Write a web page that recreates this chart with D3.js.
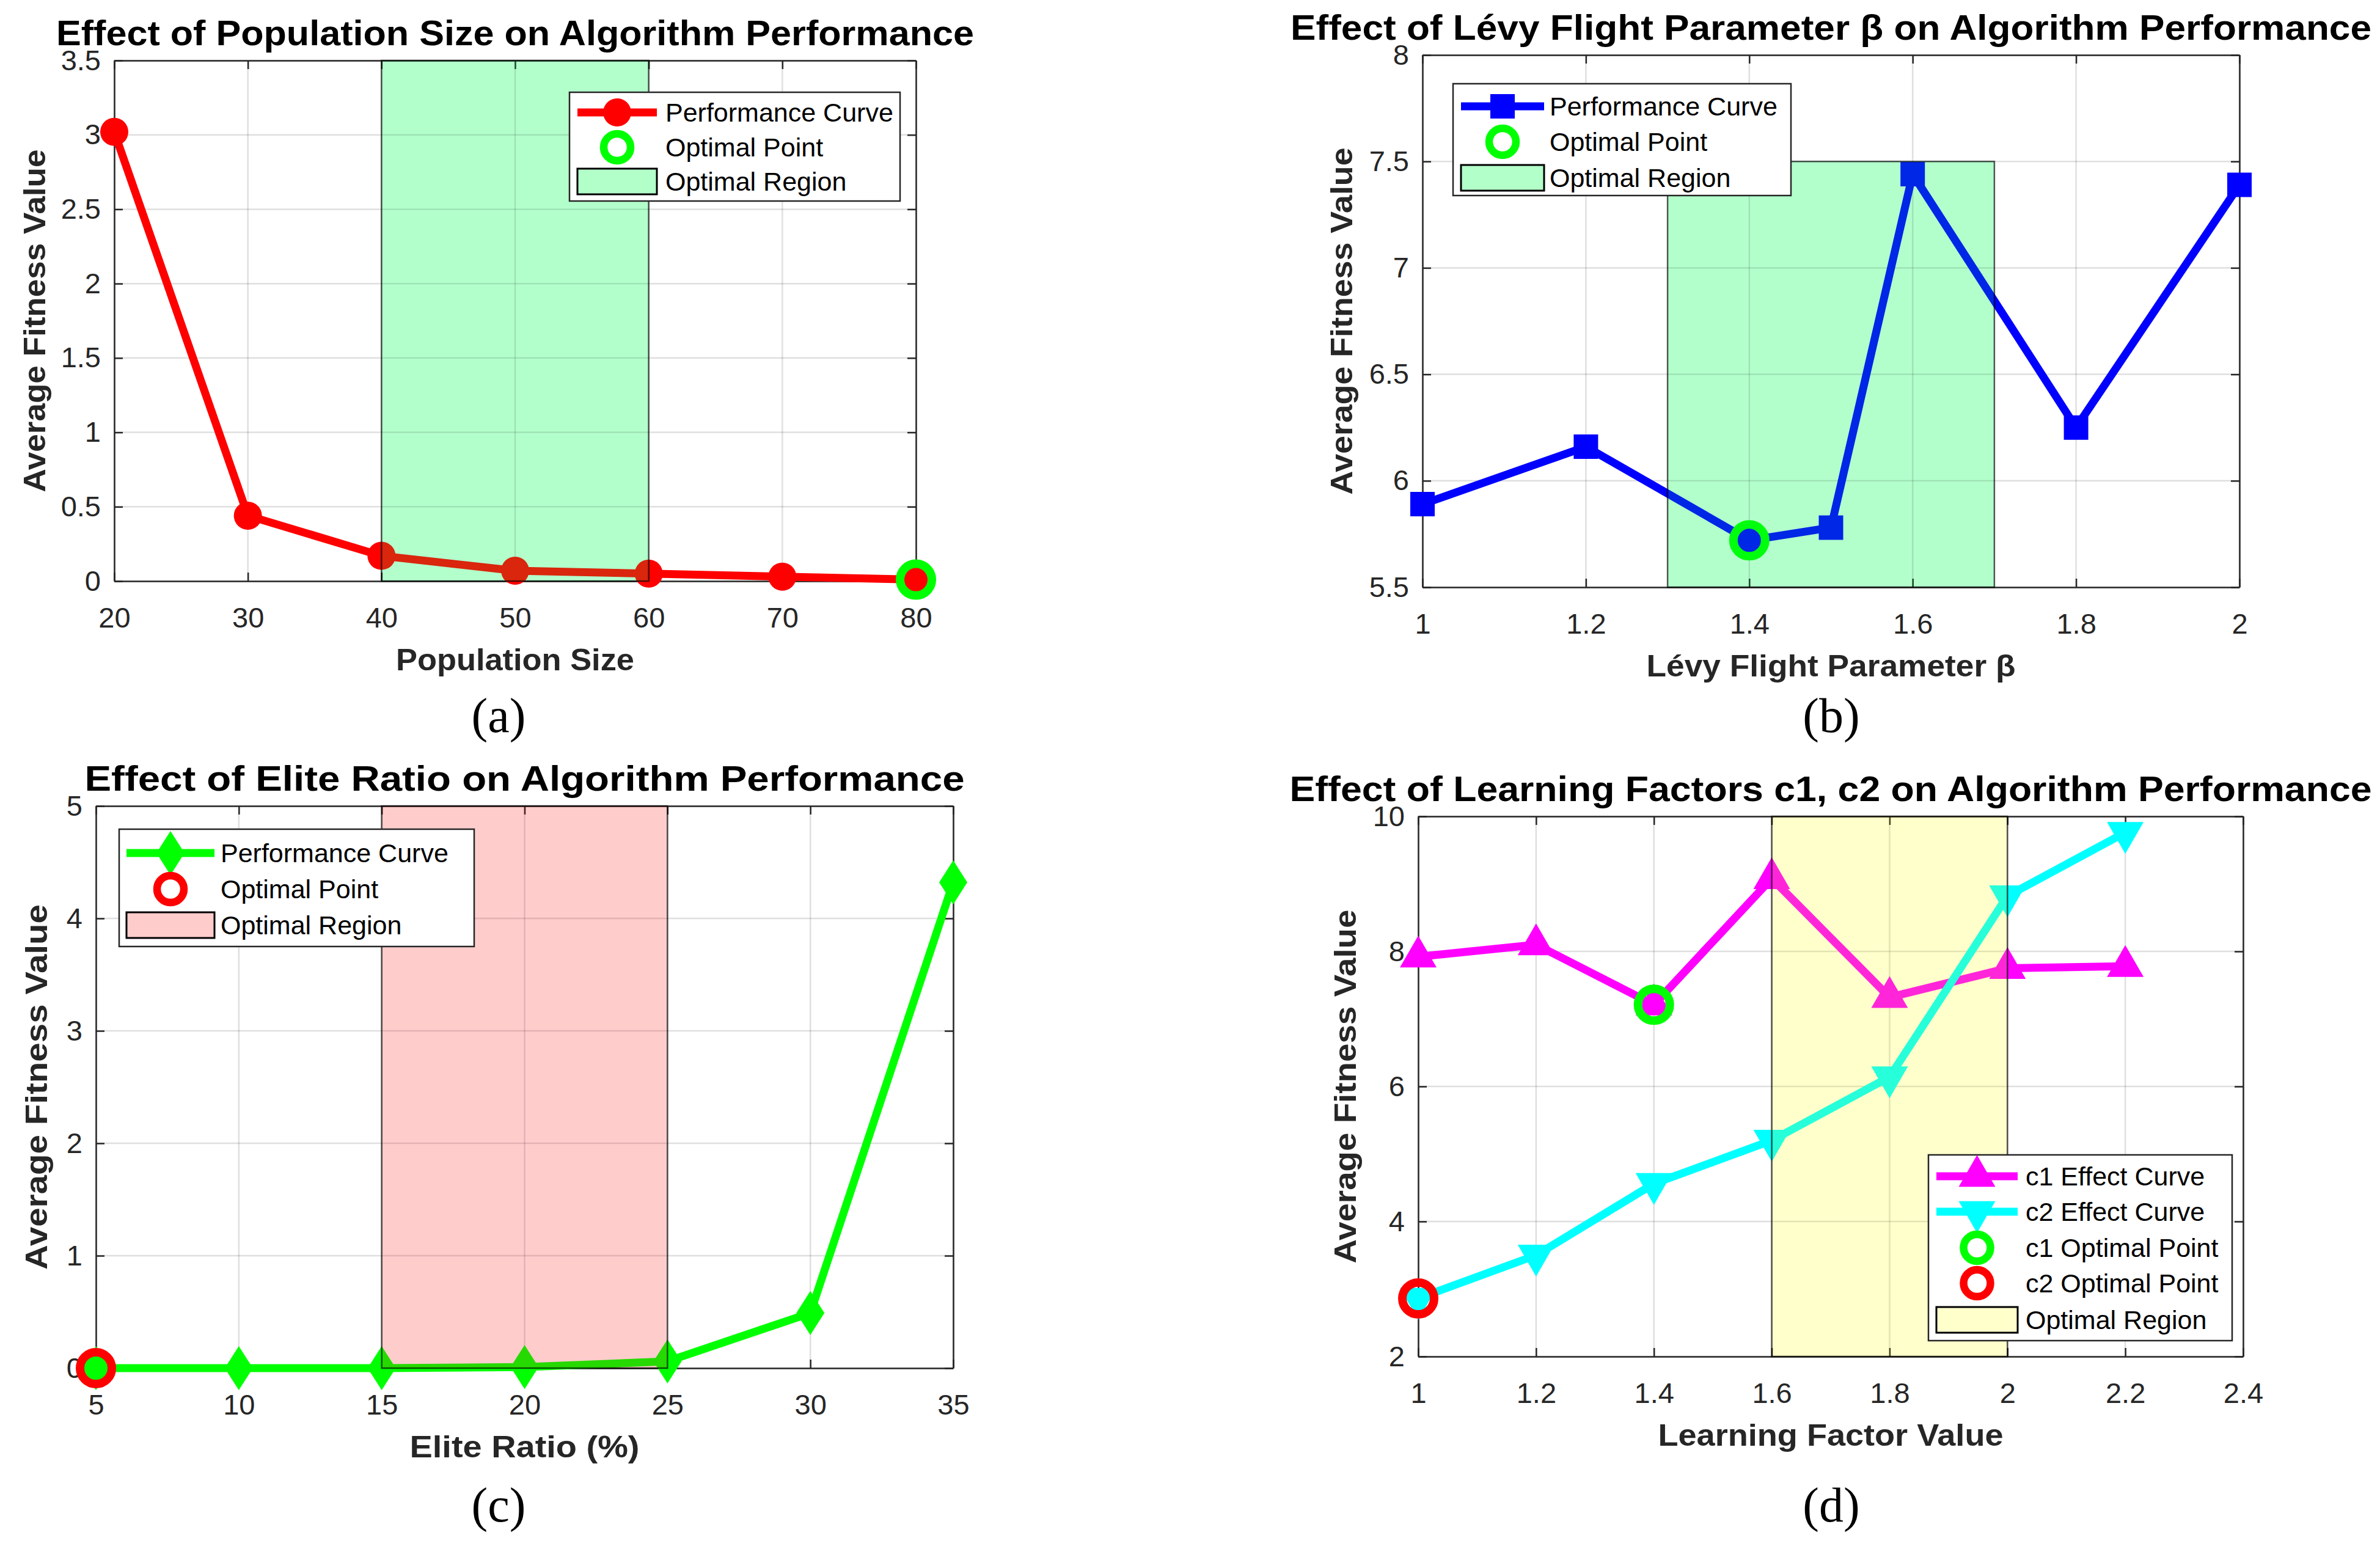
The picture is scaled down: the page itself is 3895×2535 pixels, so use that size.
<!DOCTYPE html>
<html>
<head>
<meta charset="utf-8">
<script src="https://cdn.jsdelivr.net/npm/d3@7"></script>
<style>
  body { margin: 0; background: #fff; }
  text { font-family: "Liberation Sans", Arial, sans-serif; }
</style>
</head>
<body>
<svg id="fig"></svg>
<script>
// ---- data ----
// (a) population size
const popSize = [20, 30, 40, 50, 60, 70, 80]
const popFitness = [3.02, 0.44, 0.17, 0.07, 0.05, 0.03, 0.01]
const popTicksX = [20, 30, 40, 50, 60, 70, 80]
const popTicksY = [0, 0.5, 1, 1.5, 2, 2.5, 3, 3.5]
const popRegion = [40, 60]
const popBest = [80, 0.01]

// (b) Lévy flight parameter beta
const betaValues = [1.0, 1.2, 1.4, 1.5, 1.6, 1.8, 2.0]
const betaFitness = [5.89, 6.16, 5.72, 5.78, 7.44, 6.25, 7.39]
const betaTicksX = [1, 1.2, 1.4, 1.6, 1.8, 2]
const betaTicksY = [5.5, 6, 6.5, 7, 7.5, 8]
const betaRegion = [1.3, 1.7]
const betaRegionTop = 7.5
const betaBest = [1.4, 5.72]

// (c) elite ratio
const eliteRatio = [5, 10, 15, 20, 25, 30, 35]
const eliteFitness = [0, 0, 0, 0.01, 0.06, 0.49, 4.32]
const eliteTicksX = [5, 10, 15, 20, 25, 30, 35]
const eliteTicksY = [0, 1, 2, 3, 4, 5]
const eliteRegion = [15, 25]
const eliteBest = [5, 0]

// (d) learning factors
const learnValues = [1.0, 1.2, 1.4, 1.6, 1.8, 2.0, 2.2]
const c1Fitness = [7.92, 8.1, 7.21, 9.08, 7.32, 7.75, 7.78]
const c2Fitness = [2.86, 3.5, 4.56, 5.2, 6.14, 8.82, 9.76]
const learnTicksX = [1, 1.2, 1.4, 1.6, 1.8, 2, 2.2, 2.4]
const learnTicksY = [2, 4, 6, 8, 10]
const learnRegion = [1.6, 2.0]
const c1Best = [1.4, 7.21]
const c2Best = [1.0, 2.86]

const W = 3895
const H = 2535
const AX = '#262626'

const svg = d3.select('#fig').attr('width', W).attr('height', H)
svg.append('rect').attr('width', W).attr('height', H).attr('fill', '#fff')

const zip = (xs, ys) => xs.map((v, i) => [v, ys[i]])

// marker outlines, centred on the data point
function markerPath(type) {
  if (type === 'circle') return 'M-23,0A23,23 0 1,0 23,0A23,23 0 1,0 -23,0Z'
  if (type === 'square') return 'M-20,-20H20V20H-20Z'
  if (type === 'diamond') return 'M0,-36L23,0L0,36L-23,0Z'
  const w = 60, h = 52
  if (type === 'triUp') return `M0,${-2 * h / 3}L${w / 2},${h / 3}L${-w / 2},${h / 3}Z`
  return `M0,${2 * h / 3}L${w / 2},${-h / 3}L${-w / 2},${-h / 3}Z`
}

function drawPanel(p) {
  const g = svg.append('g')
  const b = p.box
  const x = d3.scaleLinear().domain(p.xDomain).range([b.x0, b.x1])
  const y = d3.scaleLinear().domain(p.yDomain).range([b.y1, b.y0])

  // region geometry (underlay now, tinted overlay after the curves)
  const top = p.region.top !== undefined ? p.region.top : p.yDomain[1]
  const rx = x(p.region.x[0])
  const rw = x(p.region.x[1]) - rx
  const ry = y(top)
  const rh = y(p.yDomain[0]) - ry
  g.append('rect').attr('x', rx).attr('y', ry).attr('width', rw).attr('height', rh)
    .attr('fill', p.region.under)

  // grid
  g.append('g').selectAll('line').data(p.xTicks).join('line')
    .attr('x1', d => x(d)).attr('x2', d => x(d)).attr('y1', b.y0).attr('y2', b.y1)
    .attr('stroke', AX).attr('stroke-opacity', 0.15).attr('stroke-width', 2.5)
  g.append('g').selectAll('line').data(p.yTicks).join('line')
    .attr('y1', d => y(d)).attr('y2', d => y(d)).attr('x1', b.x0).attr('x2', b.x1)
    .attr('stroke', AX).attr('stroke-opacity', 0.15).attr('stroke-width', 2.5)

  // axes box with inward ticks on all four sides
  const fmt = d => String(d)
  const axes = [
    { a: d3.axisBottom(x).tickValues(p.xTicks).tickFormat(fmt).tickPadding(43), t: `translate(0,${b.y1})` },
    { a: d3.axisTop(x).tickValues(p.xTicks).tickFormat(''), t: `translate(0,${b.y0})` },
    { a: d3.axisLeft(y).tickValues(p.yTicks).tickFormat(fmt).tickPadding(22), t: `translate(${b.x0},0)` },
    { a: d3.axisRight(y).tickValues(p.yTicks).tickFormat(''), t: `translate(${b.x1},0)` },
  ]
  axes.forEach(({ a, t }) => {
    const ag = g.append('g').attr('transform', t)
      .call(a.tickSizeInner(-14).tickSizeOuter(0))
    ag.select('.domain').attr('stroke', AX).attr('stroke-width', 2.5)
    ag.selectAll('.tick line').attr('stroke', AX).attr('stroke-width', 2.5)
    ag.selectAll('.tick text').attr('font-size', 47).attr('fill', AX)
  })

  // curves
  p.series.forEach(s => {
    const pts = zip(s.x, s.y)
    g.append('path').datum(pts)
      .attr('d', d3.line().x(d => x(d[0])).y(d => y(d[1])))
      .attr('fill', 'none').attr('stroke', s.color).attr('stroke-width', 13)
      .attr('stroke-linejoin', 'round')
    g.append('g').selectAll('path').data(pts).join('path')
      .attr('d', markerPath(s.marker))
      .attr('transform', d => `translate(${x(d[0])},${y(d[1])})`)
      .attr('fill', s.color)
  })

  // optimal points
  p.optimal.forEach(o => {
    g.append('circle').attr('cx', x(o.pt[0])).attr('cy', y(o.pt[1])).attr('r', 26)
      .attr('fill', 'none').attr('stroke', o.color).attr('stroke-width', 14)
  })

  // translucent tint of the optimal region on top, with its edge
  g.append('rect').attr('x', rx).attr('y', ry).attr('width', rw).attr('height', rh)
    .attr('fill', p.region.tint).attr('fill-opacity', 0.15)
    .attr('stroke', '#000').attr('stroke-opacity', 0.65).attr('stroke-width', 2.5)

  // title and labels
  const cx = (b.x0 + b.x1) / 2
  const cy = (b.y0 + b.y1) / 2
  g.append('text').text(p.title)
    .attr('x', cx).attr('y', b.y0 - 25).attr('text-anchor', 'middle')
    .attr('font-size', 58).attr('font-weight', 'bold').attr('fill', '#000')
    .attr('textLength', p.titleLen).attr('lengthAdjust', 'spacingAndGlyphs')
  g.append('text').text(p.xlabel)
    .attr('x', cx).attr('y', b.y1 + 146).attr('text-anchor', 'middle')
    .attr('font-size', 50).attr('font-weight', 'bold').attr('fill', AX)
    .attr('textLength', p.xlabelLen).attr('lengthAdjust', 'spacingAndGlyphs')
  g.append('text').text('Average Fitness Value')
    .attr('transform', `translate(${p.ylabelX},${cy}) rotate(-90)`)
    .attr('text-anchor', 'middle')
    .attr('font-size', 50).attr('font-weight', 'bold').attr('fill', AX)
    .attr('textLength', p.ylabelLen).attr('lengthAdjust', 'spacingAndGlyphs')
  g.append('text').text(p.tag)
    .attr('x', p.tagX).attr('y', p.tagY).attr('text-anchor', 'middle')
    .style('font-family', '"Liberation Serif", "DejaVu Serif", serif')
    .attr('font-size', 80).attr('fill', '#000')

  // legend
  const L = p.legend
  const lg = g.append('g')
  lg.append('rect').attr('x', L.x0).attr('y', L.y0)
    .attr('width', L.x1 - L.x0).attr('height', L.y1 - L.y0)
    .attr('fill', '#fff').attr('stroke', AX).attr('stroke-width', 2.5)
  const mid = (L.sx0 + L.sx1) / 2
  L.rows.forEach((r, i) => {
    const yy = L.rowY[i]
    if (r.kind === 'line') {
      lg.append('line').attr('x1', L.sx0).attr('x2', L.sx1).attr('y1', yy).attr('y2', yy)
        .attr('stroke', r.color).attr('stroke-width', 13)
      lg.append('path').attr('d', markerPath(r.marker))
        .attr('transform', `translate(${mid},${yy})`).attr('fill', r.color)
    } else if (r.kind === 'ring') {
      lg.append('circle').attr('cx', mid).attr('cy', yy).attr('r', 22)
        .attr('fill', 'none').attr('stroke', r.color).attr('stroke-width', 12.5)
    } else {
      lg.append('rect').attr('x', L.sx0).attr('y', yy - 21)
        .attr('width', L.sx1 - L.sx0).attr('height', 42)
        .attr('fill', r.color).attr('stroke', '#000').attr('stroke-width', 3)
    }
    lg.append('text').text(r.label)
      .attr('x', L.tx).attr('y', yy).attr('dy', '0.36em')
      .attr('font-size', 43).attr('fill', '#000')
  })
}

// region colours: a pale underlay plus a light tint laid over the curves
const mintRegion = { under: '#d3ffe1', tint: 'rgb(0,255,85)' }
const pinkRegion = { under: '#fff0f0', tint: '#ff0000' }
const yellowRegion = { under: '#fffff0', tint: '#ffff00' }

drawPanel({
  box: { x0: 187, x1: 1499, y0: 99, y1: 951 },
  xDomain: [20, 80], yDomain: [0, 3.5],
  xTicks: popTicksX, yTicks: popTicksY,
  series: [{ x: popSize, y: popFitness, color: '#ff0000', marker: 'circle' }],
  optimal: [{ pt: popBest, color: '#00ff00' }],
  region: { x: popRegion, ...mintRegion },
  title: 'Effect of Population Size on Algorithm Performance', titleLen: 1502,
  xlabel: 'Population Size', xlabelLen: 390,
  ylabelX: 74, ylabelLen: 561,
  tag: '(a)', tagX: 816, tagY: 1198,
  legend: {
    x0: 932, x1: 1473, y0: 151, y1: 329, sx0: 945, sx1: 1075, tx: 1089,
    rowY: [184, 241, 297],
    rows: [
      { kind: 'line', color: '#ff0000', marker: 'circle', label: 'Performance Curve' },
      { kind: 'ring', color: '#00ff00', label: 'Optimal Point' },
      { kind: 'patch', color: '#b3ffca', label: 'Optimal Region' },
    ],
  },
})

drawPanel({
  box: { x0: 2328, x1: 3665, y0: 90, y1: 961 },
  xDomain: [1, 2], yDomain: [5.5, 8],
  xTicks: betaTicksX, yTicks: betaTicksY,
  series: [{ x: betaValues, y: betaFitness, color: '#0000ff', marker: 'square' }],
  optimal: [{ pt: betaBest, color: '#00ff00' }],
  region: { x: betaRegion, top: betaRegionTop, ...mintRegion },
  title: 'Effect of Lévy Flight Parameter β on Algorithm Performance', titleLen: 1769,
  xlabel: 'Lévy Flight Parameter β', xlabelLen: 604,
  ylabelX: 2213, ylabelLen: 568,
  tag: '(b)', tagX: 2997, tagY: 1198,
  legend: {
    x0: 2378, x1: 2931, y0: 137, y1: 320, sx0: 2391, sx1: 2527, tx: 2536,
    rowY: [174, 232, 291],
    rows: [
      { kind: 'line', color: '#0000ff', marker: 'square', label: 'Performance Curve' },
      { kind: 'ring', color: '#00ff00', label: 'Optimal Point' },
      { kind: 'patch', color: '#b3ffca', label: 'Optimal Region' },
    ],
  },
})

drawPanel({
  box: { x0: 157, x1: 1560, y0: 1319, y1: 2239 },
  xDomain: [5, 35], yDomain: [0, 5],
  xTicks: eliteTicksX, yTicks: eliteTicksY,
  series: [{ x: eliteRatio, y: eliteFitness, color: '#00ff00', marker: 'diamond' }],
  optimal: [{ pt: eliteBest, color: '#ff0000' }],
  region: { x: eliteRegion, ...pinkRegion },
  title: 'Effect of Elite Ratio on Algorithm Performance', titleLen: 1440,
  xlabel: 'Elite Ratio (%)', xlabelLen: 376,
  ylabelX: 77, ylabelLen: 598,
  tag: '(c)', tagX: 816, tagY: 2490,
  legend: {
    x0: 195, x1: 776, y0: 1357, y1: 1549, sx0: 207, sx1: 351, tx: 361,
    rowY: [1396, 1455, 1514],
    rows: [
      { kind: 'line', color: '#00ff00', marker: 'diamond', label: 'Performance Curve' },
      { kind: 'ring', color: '#ff0000', label: 'Optimal Point' },
      { kind: 'patch', color: '#ffcccc', label: 'Optimal Region' },
    ],
  },
})

drawPanel({
  box: { x0: 2321, x1: 3671, y0: 1336, y1: 2220 },
  xDomain: [1, 2.4], yDomain: [2, 10],
  xTicks: learnTicksX, yTicks: learnTicksY,
  series: [
    { x: learnValues, y: c1Fitness, color: '#ff00ff', marker: 'triUp' },
    { x: learnValues, y: c2Fitness, color: '#00ffff', marker: 'triDown' },
  ],
  optimal: [{ pt: c1Best, color: '#00ff00' }, { pt: c2Best, color: '#ff0000' }],
  region: { x: learnRegion, ...yellowRegion },
  title: 'Effect of Learning Factors c1, c2 on Algorithm Performance', titleLen: 1771,
  xlabel: 'Learning Factor Value', xlabelLen: 565,
  ylabelX: 2219, ylabelLen: 579,
  tag: '(d)', tagX: 2997, tagY: 2490,
  legend: {
    x0: 3156, x1: 3653, y0: 1890, y1: 2194, sx0: 3169, sx1: 3302, tx: 3315,
    rowY: [1925, 1983, 2042, 2100, 2160],
    rows: [
      { kind: 'line', color: '#ff00ff', marker: 'triUp', label: 'c1 Effect Curve' },
      { kind: 'line', color: '#00ffff', marker: 'triDown', label: 'c2 Effect Curve' },
      { kind: 'ring', color: '#00ff00', label: 'c1 Optimal Point' },
      { kind: 'ring', color: '#ff0000', label: 'c2 Optimal Point' },
      { kind: 'patch', color: '#ffffcc', label: 'Optimal Region' },
    ],
  },
})
</script>
</body>
</html>
